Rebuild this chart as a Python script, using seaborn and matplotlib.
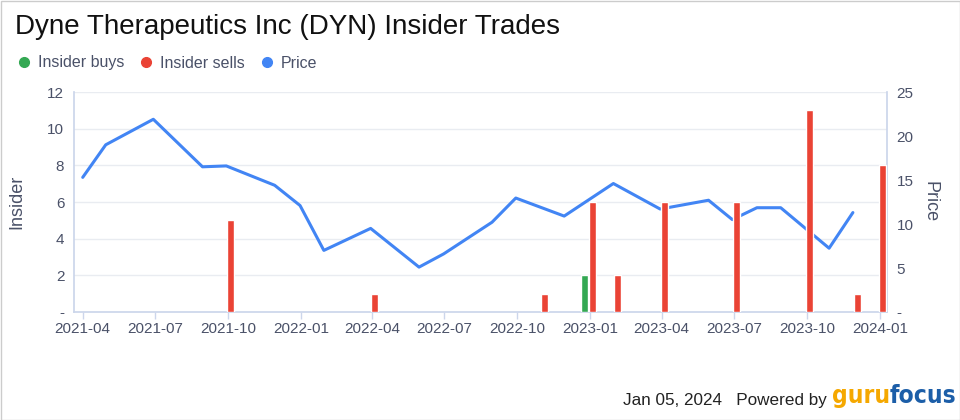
import matplotlib
matplotlib.use("Agg")
import matplotlib.pyplot as plt
import matplotlib.dates as mdates
from matplotlib.ticker import FuncFormatter, FixedLocator
from matplotlib import font_manager
import seaborn as sns
import pandas as pd

# ---- data ----
price_dates = ["2021-04-01", "2021-04-30", "2021-06-29", "2021-08-30", "2021-09-29",
               "2021-11-29", "2021-12-31", "2022-01-30", "2022-03-30", "2022-05-30",
               "2022-06-30", "2022-08-30", "2022-09-29", "2022-11-29", "2023-01-30",
               "2023-03-30", "2023-05-30", "2023-06-29", "2023-07-30", "2023-08-29",
               "2023-10-29", "2023-11-28"]
price_values = [15.3, 19.0, 21.9, 16.5, 16.6, 14.4, 12.1, 7.0, 9.5, 5.1,
                6.6, 10.2, 12.95, 10.9, 14.6, 11.7, 12.7, 10.5, 11.85, 11.85,
                7.25, 11.3]

sell_dates = ["2021-10-04", "2022-04-04", "2022-11-04", "2023-01-04", "2023-02-04",
              "2023-04-04", "2023-07-04", "2023-10-04", "2023-12-04", "2024-01-04"]
sell_counts = [5, 1, 1, 6, 2, 6, 6, 11, 1, 8]

buy_dates = ["2022-12-25"]
buy_counts = [2]

left_ticks = [0, 2, 4, 6, 8, 10, 12]
right_ticks = [0, 5, 10, 15, 20, 25]
legend_labels = ["Insider buys", "Insider sells", "Price"]

# ---- style ----
sns.set_theme(style="white")
plt.rcParams['font.family'] = ['Liberation Sans', 'DejaVu Sans']

GREEN = "#34a853"
RED = "#ea4335"
BLUE = "#4285f4"
TXT = "#4a5168"
AXC = "#ccd6eb"
GRID = "#e9ecf1"

fig = plt.figure(figsize=(9.6, 4.2), dpi=100)
ax = fig.add_axes([74/960, 1-312/420, (887-74)/960, 220/420])
ax2 = ax.twinx()

price_df = pd.DataFrame({"date": pd.to_datetime(price_dates), "price": price_values})
sell_df = pd.DataFrame({"date": pd.to_datetime(sell_dates), "n": sell_counts})
buy_df = pd.DataFrame({"date": pd.to_datetime(buy_dates), "n": buy_counts})

for v in left_ticks[1:]:
    ax.axhline(v * right_ticks[-1] / left_ticks[-1], color=GRID, lw=1, zorder=0)

sns.lineplot(data=price_df, x="date", y="price", ax=ax, color=BLUE, lw=2.2, zorder=3)

ax2.bar(sell_df["date"], sell_df["n"], width=9, color=RED, zorder=3)
ax2.bar(buy_df["date"], buy_df["n"], width=9, color=GREEN, zorder=3)

ax.set_xlim(pd.Timestamp("2021-03-21"), pd.Timestamp("2024-01-10"))
ax.set_ylim(0, 25)
ax2.set_ylim(0, 12)

ax.yaxis.tick_right()
ax.yaxis.set_label_position("right")
ax2.yaxis.tick_left()
ax2.yaxis.set_label_position("left")

dash_fmt = FuncFormatter(lambda v, p: "-" if abs(v) < 1e-9 else f"{v:g}")
ax.yaxis.set_major_locator(FixedLocator(right_ticks))
ax.yaxis.set_major_formatter(dash_fmt)
ax2.yaxis.set_major_locator(FixedLocator(left_ticks))
ax2.yaxis.set_major_formatter(dash_fmt)

ax.xaxis.set_major_locator(mdates.MonthLocator(bymonth=[1, 4, 7, 10]))
ax.xaxis.set_major_formatter(mdates.DateFormatter("%Y-%m"))

ax.set_xlabel("")
ax.set_ylabel("Price", color=TXT, fontsize=13, rotation=270, labelpad=18)
ax2.set_ylabel("Insider", color=TXT, fontsize=13, labelpad=16)

for a in (ax, ax2):
    a.tick_params(axis="y", colors=TXT, labelsize=11, length=0, pad=7)
    a.tick_params(axis="x", colors=AXC, labelcolor=TXT, labelsize=11, length=5, width=1, pad=2,
                  direction="out", bottom=True)
    for s in a.spines.values():
        s.set_visible(False)
    a.grid(False)
ax2.tick_params(axis="x", bottom=False, labelbottom=False)

for side in ("bottom", "left", "right"):
    ax.spines[side].set_visible(True)
    ax.spines[side].set_color(AXC)

# title
fig.text(15/960, 1-27/420, "Dyne Therapeutics Inc (DYN) Insider Trades", fontsize=20,
         color="#111111", va="center", ha="left")

# legend
handles = [plt.Line2D([], [], marker="o", ls="", color=c, markersize=7)
           for c in (GREEN, RED, BLUE)]
fig.legend(handles, legend_labels, loc="center left",
           bbox_to_anchor=(14/960, 1-63/420), ncol=3, frameon=False, fontsize=11.5,
           labelcolor=TXT, handletextpad=0.3, columnspacing=0.75, handlelength=1.2,
           borderaxespad=0, borderpad=0)

# footer
fig.text(827/960, 1-400/420, "Jan 05, 2024   Powered by", fontsize=12.3, color="#222222",
         ha="right", va="center")

# logo: pick a condensed bold face if available, then fit width to ~124 px
stretch = "normal"
for f in font_manager.fontManager.ttflist:
    if f.name == "DejaVu Sans" and f.stretch == "condensed" and f.weight in (700, "bold"):
        stretch = "condensed"
        break
logo_kw = dict(color="#f5a800", ha="left", va="center", fontweight="bold",
               family="DejaVu Sans", fontstretch=stretch)
fs = 24
t1 = fig.text(832/960, 1-396/420, "guru", fontsize=fs, **logo_kw)
t2 = fig.text(0, 1-396/420, "focus", fontsize=fs, **{**logo_kw, "color": "#1c5ea8"})
fig.canvas.draw()
r = fig.canvas.get_renderer()
w = t1.get_window_extent(r).width + t2.get_window_extent(r).width
fs = fs * 124 / w
t1.set_fontsize(fs)
t2.set_fontsize(fs)
fig.canvas.draw()
bb = t1.get_window_extent(r)
t2.set_x(bb.x1 / 960)

fig.patches.append(plt.Rectangle((0.5/960, 0.5/420), 1-1/960, 1-1/420, transform=fig.transFigure,
                                 fill=False, edgecolor="#cccccc", lw=1))

fig.savefig("out.png", dpi=100)
